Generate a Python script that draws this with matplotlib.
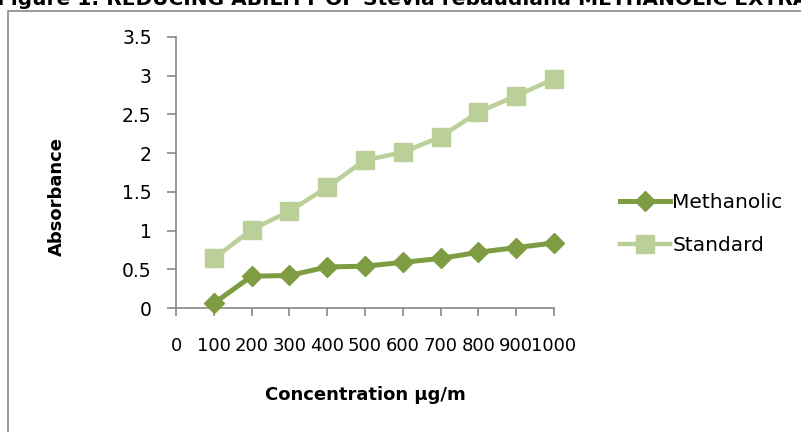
import matplotlib
matplotlib.use("Agg")
import matplotlib.pyplot as plt
import matplotlib.patches as patches

# data
concentration = [100, 200, 300, 400, 500, 600, 700, 800, 900, 1000]
methanolic = [0.06, 0.41, 0.42, 0.53, 0.54, 0.59, 0.64, 0.72, 0.78, 0.84]
standard = [0.64, 1.01, 1.25, 1.56, 1.91, 2.01, 2.21, 2.53, 2.74, 2.96]
x_ticks = [0, 100, 200, 300, 400, 500, 600, 700, 800, 900, 1000]
y_ticks = [0, 0.5, 1, 1.5, 2, 2.5, 3, 3.5]

W, H = 801, 432
plt.rcParams["font.family"] = ["DejaVu Sans"]

fig = plt.figure(figsize=(W / 100, H / 100), dpi=100)
ax = fig.add_axes([176 / W, 1 - 308 / H, (554 - 176) / W, (308 - 37) / H])

dark = "#7E9D43"
light = "#BBD098"
ax.plot(concentration, methanolic, color=dark, lw=3.6, marker="D",
        ms=10, label="Methanolic", clip_on=False, zorder=4)
ax.plot(concentration, standard, color=light, lw=3.2, marker="s",
        ms=13, label="Standard", clip_on=False, zorder=3)

ax.set_xlim(0, 1000)
ax.set_ylim(0, 3.5)
ax.set_xticks(x_ticks)
ax.set_xticklabels([str(v) for v in x_ticks])
ax.set_yticks(y_ticks)
ax.set_yticklabels([f"{v:g}" for v in y_ticks])

for s in ["top", "right"]:
    ax.spines[s].set_visible(False)
for s in ["left", "bottom"]:
    ax.spines[s].set_color("#888888")
    ax.spines[s].set_linewidth(1.2)
ax.tick_params(axis="x", length=6, color="#888888", width=1.2,
               labelsize=13, pad=15)
ax.tick_params(axis="y", length=6.5, color="#888888", width=1.2,
               labelsize=13.5, pad=11)

fig.text(57 / W, 1 - 197 / H, "Absorbance", rotation=90, ha="center",
         va="center", fontsize=13, fontweight="bold")
fig.text(365 / W, 1 - 395 / H, "Concentration µg/m", ha="center",
         va="center", fontsize=13, fontweight="bold")

ax.legend(loc="center left", bbox_to_anchor=(602 / W, 1 - 224 / H),
          bbox_transform=fig.transFigure, frameon=False, fontsize=14.5,
          handlelength=2.5, handletextpad=0.1, labelspacing=1.15)

# chart border and clipped caption
fig.patches.append(patches.Rectangle((8 / W, -0.2), 1.5, 1.2 - 11 / H,
                                     transform=fig.transFigure, fill=False,
                                     edgecolor="#888888", lw=1.2))
fig.text(-0.004, 1 - 5 / H,
         "Figure 1: REDUCING ABILITY OF Stevia rebaudiana METHANOLIC EXTRACT",
         ha="left", va="baseline", fontsize=14.5, fontweight="bold")

fig.savefig("out.png", dpi=100)
